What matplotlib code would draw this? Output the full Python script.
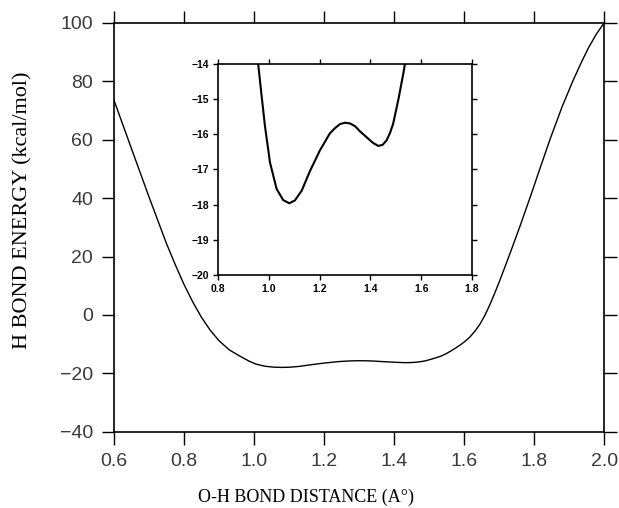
import numpy as np
import matplotlib.pyplot as plt

# H-bond potential energy curve (x in Angstrom, y in kcal/mol)
bond_dist = [0.600, 0.650, 0.700, 0.750, 0.775, 0.800, 0.825, 0.850, 0.875, 0.900,
             0.930, 0.959, 0.972, 0.985, 1.005, 1.031, 1.057, 1.081, 1.103, 1.130,
             1.162, 1.202, 1.241, 1.260, 1.280, 1.300, 1.320, 1.340, 1.360, 1.385,
             1.410, 1.431, 1.448, 1.464, 1.478, 1.490, 1.510, 1.530, 1.536, 1.548,
             1.560, 1.575, 1.590, 1.604, 1.617, 1.632, 1.646, 1.660, 1.674, 1.687,
             1.700, 1.715, 1.731, 1.760, 1.789, 1.818, 1.846, 1.880, 1.911, 1.935,
             1.955, 1.978, 2.000]
energy = [73.6, 57.0, 40.5, 24.5, 17.3, 10.5, 4.5, -0.8, -5.2, -8.8,
          -12.0, -14.03, -14.9, -15.75, -16.8, -17.55, -17.87, -17.96, -17.88, -17.6,
          -17.05, -16.45, -15.97, -15.83, -15.71, -15.67, -15.69, -15.77, -15.92, -16.08,
          -16.24, -16.33, -16.30, -16.17, -15.95, -15.69, -15.02, -14.26, -14.0, -13.3,
          -12.5, -11.4, -10.2, -8.9, -7.5, -5.4, -3.0, 0.0, 3.6, 7.3,
          11.2, 15.9, 21.0, 30.5, 40.4, 50.6, 60.3, 71.3, 80.2, 86.5,
          91.4, 96.2, 100.0]

main_xticks = [0.6, 0.8, 1.0, 1.2, 1.4, 1.6, 1.8, 2.0]
main_yticks = [-40, -20, 0, 20, 40, 60, 80, 100]
inset_xticks = [0.8, 1.0, 1.2, 1.4, 1.6, 1.8]
inset_yticks = [-20, -19, -18, -17, -16, -15, -14]

fig = plt.figure(figsize=(6.19, 5.08), dpi=100)

# main axes
ax = fig.add_axes([0.184, 0.150, 0.792, 0.805])
ax.plot(bond_dist, energy, color='black', lw=1.0)
ax.set_xlim(0.6, 2.0)
ax.set_ylim(-40, 100)
ax.set_xticks(main_xticks)
ax.set_yticks(main_yticks)
ax.set_xticklabels(['%.1f' % v for v in main_xticks])
ax.tick_params(direction='out', length=9, width=1.0, top=True, right=True,
               labelsize=14, labelcolor='#3a3a3a', pad=6)
for lab in ax.get_xticklabels() + ax.get_yticklabels():
    lab.set_family('Liberation Sans')
for s in ax.spines.values():
    s.set_linewidth(1.2)

fig.text(306 / 619, 1 - 497 / 508, 'O-H BOND DISTANCE (A°)', ha='center', va='center',
         family='Liberation Serif', fontsize=13)
fig.text(23 / 619, 1 - 210 / 508, 'H BOND ENERGY (kcal/mol)', ha='center', va='center',
         rotation=90, family='Liberation Serif', fontsize=16)

# inset zoom on the double well
ins = fig.add_axes([0.352, 0.4587, 0.4105, 0.4153])
ins.plot(bond_dist, energy, color='black', lw=1.5)
ins.set_xlim(0.8, 1.8)
ins.set_ylim(-20, -14)
ins.set_xticks(inset_xticks)
ins.set_yticks(inset_yticks)
ins.set_xticklabels(['%.1f' % v for v in inset_xticks])
ins.tick_params(direction='out', length=3.5, width=1.0, top=True, right=True,
                labelsize=7.5, pad=3)
for lab in ins.get_xticklabels() + ins.get_yticklabels():
    lab.set_family('Liberation Sans')
    lab.set_weight('bold')
for s in ins.spines.values():
    s.set_linewidth(1.2)

fig.savefig('out.png', dpi=100)
